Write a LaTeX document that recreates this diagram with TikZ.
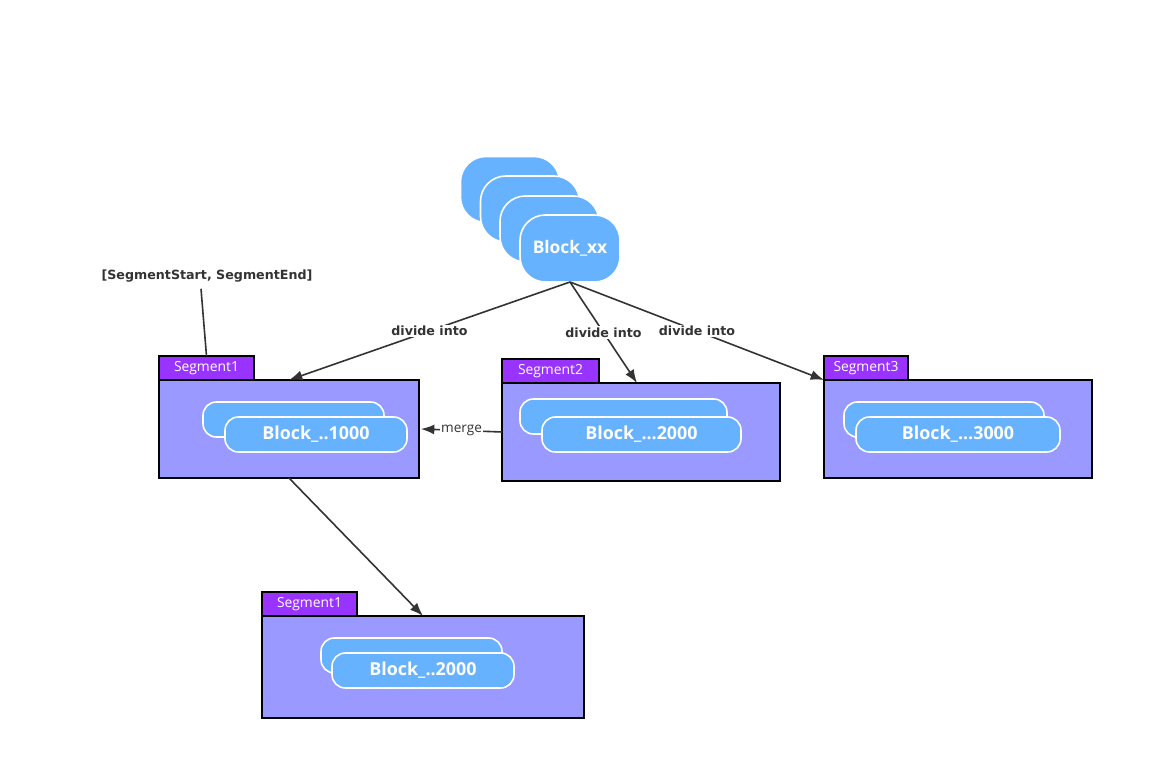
\documentclass[tikz,border=0pt]{standalone}
\usepackage{fontspec}
\setmainfont{Open Sans}
\newfontfamily\lblfont{DejaVu Sans}
\usetikzlibrary{arrows.meta,calc}
\definecolor{blk}{HTML}{66B2FF}
\definecolor{segfill}{HTML}{9999FF}
\definecolor{tabfill}{HTML}{9933FF}
\definecolor{ink}{HTML}{333333}
\tikzset{
  sz/.style 2 args={minimum width=#1*0.75pt, minimum height=#2*0.75pt, inner sep=0pt, outer sep=0pt},
  stackbox/.style={draw=white, line width=1.2pt, fill=blk, rounded corners=19pt, text=white, font=\bfseries\fontsize{13}{15}\selectfont},
  pill/.style={draw=white, line width=1.2pt, fill=blk, rounded corners=10pt, text=white, font=\bfseries\fontsize{13.4}{15}\selectfont},
  segbox/.style={draw=black, line width=1.5pt, fill=segfill},
  tabbox/.style={draw=black, line width=1.5pt, fill=tabfill, text=white, font=\fontsize{10.4}{12}\selectfont},
  lbl/.style={text=ink, font=\lblfont\bfseries\fontsize{9.5}{11}\selectfont, fill=white, inner sep=1pt},
  arr/.style={draw=ink, line width=1.2pt, -{Latex[length=10pt,width=7.5pt]}},
}
\begin{document}
\begin{tikzpicture}[x=0.75pt,y=-0.75pt]
\useasboundingbox[fill=white] (0,0) rectangle (1154,780);

% Block_xx stack
\node[stackbox, sz={99}{66}] (b1) at (510,189.5) {};
\node[stackbox, sz={99}{66}] (b2) at (530,209) {};
\node[stackbox, sz={99}{66}] (b3) at (549.5,229) {};
\node[stackbox, sz={100}{67}] (b4) at (570,248.5) {Block\_xx};

% Segment1 (top left)
\node[tabbox, sz={95}{24}] (t1) at (206.5,368) {Segment1};
\node[segbox, sz={260}{98}] (s1) at (289,429) {};
\node[pill, sz={181}{35}] (p1a) at (293.5,419.5) {};
\node[pill, sz={182}{35}] (p1b) at (316,434.5) {Block\_..1000};

% Segment2
\node[tabbox, sz={97}{24}] (t2) at (550.5,371) {Segment2};
\node[segbox, sz={278}{98}] (s2) at (641,432) {};
\node[pill, sz={207}{35}] (p2a) at (623.5,416.5) {};
\node[pill, sz={199}{35}] (p2b) at (641.5,434.5) {Block\_...2000};

% Segment3
\node[tabbox, sz={84}{24}] (t3) at (866,368) {Segment3};
\node[segbox, sz={268}{98}] (s3) at (958,429) {};
\node[pill, sz={200}{35}] (p3a) at (944,419.5) {};
\node[pill, sz={204}{35}] (p3b) at (958,434.5) {Block\_...3000};

% Segment1 (bottom)
\node[tabbox, sz={95}{24}] (t4) at (309.5,604) {Segment1};
\node[segbox, sz={322}{102}] (s4) at (423,667) {};
\node[pill, sz={181}{35}] (p4a) at (411.5,655.5) {};
\node[pill, sz={182}{35}] (p4b) at (423,670.5) {Block\_..2000};

% range label
\node[lbl] (range) at (207,276) {[SegmentStart, SegmentEnd]};
\draw[ink, line width=1.2pt] ($(range.south)+(-6,5)$) -- (t1.north);

% connectors
\draw[arr] (b4.south) -- node[lbl] {divide into} (s1.north);
\draw[arr] (b4.south) -- node[lbl] {divide into} ($(s2.north)+(-4,0)$);
\draw[arr] (b4.south) -- node[lbl] {divide into} (s3.north west);
\draw[arr] (s2.west) -- node[lbl, font=\fontsize{10.2}{12}\selectfont] {merge} ($(s1.east)+(2,0)$);
\draw[arr] (s1.south) -- (s4.north);
\end{tikzpicture}
\end{document}
